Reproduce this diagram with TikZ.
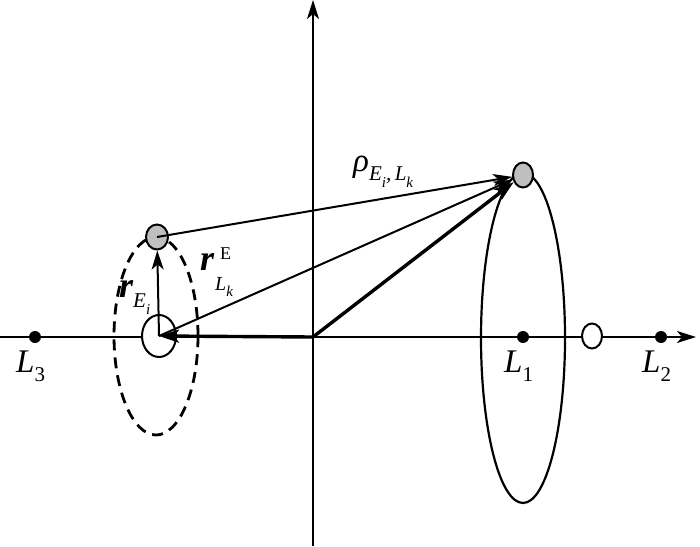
\documentclass[tikz,border=0pt]{standalone}
\usepackage{fontspec}
\setmainfont{Liberation Serif}
\usetikzlibrary{arrows.meta,shapes.geometric}
\newcommand{\lsub}[2][21]{\raisebox{-0.3em}{\fontsize{#1}{#1}\selectfont #2}}
\newcommand{\bigtxt}{\fontsize{33}{33}\selectfont}
\begin{document}
\begin{tikzpicture}[x=1pt,y=-1pt,
  tip/.style={-{Stealth[length=19pt,width=12pt,inset=5pt]}},
  axis/.style={line width=2pt,tip},
  thickvec/.style={line width=3.4pt,-{Stealth[length=20pt,width=13pt,inset=5pt]}},
  thinvec/.style={line width=2pt,tip},
  orbit/.style={draw,ellipse,line width=2.2pt,inner sep=0pt},
  ball/.style={draw,ellipse,line width=2pt,inner sep=0pt,fill=#1},
  ball/.default=white,
  dot/.style={circle,fill=black,inner sep=0pt,minimum size=12pt},
  lbl/.style={inner sep=0pt,anchor=base west,font=\bigtxt}]
\useasboundingbox (0,0) rectangle (700,546);
% orbits
\node[orbit,dash pattern=on 11pt off 7pt,line width=2.8pt,minimum width=84pt,minimum height=198pt] (halo) at (156,336) {};
\node[orbit,minimum width=84pt,minimum height=330pt] (lis) at (523,338) {};
% axes
\coordinate (xs) at (0,337);
\coordinate (xe) at (696,337);
\coordinate (ys) at (313,546);
\coordinate (ye) at (313,0);
\coordinate (O) at (313,337);
\draw[axis] (xs) -- (xe);
\draw[axis] (ys) -- (ye);
% bodies
\node[ball,minimum width=34pt,minimum height=42pt] (E) at (159,336) {};
\node[ball,minimum width=20pt,minimum height=25pt] (M) at (592,336) {};
\node[dot] (L3) at (35,337) {};
\node[dot] (L1) at (523,337) {};
\node[dot] (L2) at (661,337) {};
\node[ball=black!25,minimum width=22pt,minimum height=25pt] (Ei) at (157,237) {};
\node[ball=black!25,minimum width=20pt,minimum height=25pt] (Lk) at (523,175) {};
% vectors
\draw[thickvec] (O) -- (E.center);
\draw[thickvec] (O) -- (Lk);
\draw[thinvec] (E.center) -- (Ei);
\draw[thinvec] (Ei.center) -- (Lk);
\draw[thinvec] (E.center) -- (Lk);
% labels
\node[lbl] (tL3) at (16,372) {\itshape L\lsub{\upshape 3}};
\node[lbl] (tL1) at (504,372) {\itshape L\lsub{\upshape 1}};
\node[lbl] (tL2) at (642,372) {\itshape L\lsub{\upshape 2}};
\node[lbl] (trho) at (353,171) {\itshape ρ\lsub{E\lsub[15]{i},\,L\lsub[15]{k}}};
\node[lbl,font=\fontsize{36}{36}\selectfont] (trE) at (119,297) {\bfseries\itshape r\lsub{\mdseries E\lsub[15]{i}}};
\node[lbl,font=\fontsize{36}{36}\selectfont] (trL) at (200,270) {\bfseries\itshape r};
\node[lbl,font=\fontsize{18}{18}\selectfont] (tsup) at (220,259) {E};
\node[lbl,font=\fontsize{20}{20}\selectfont\itshape] (tsub) at (215,290) {L\lsub[15]{k}};
\end{tikzpicture}
\end{document}
